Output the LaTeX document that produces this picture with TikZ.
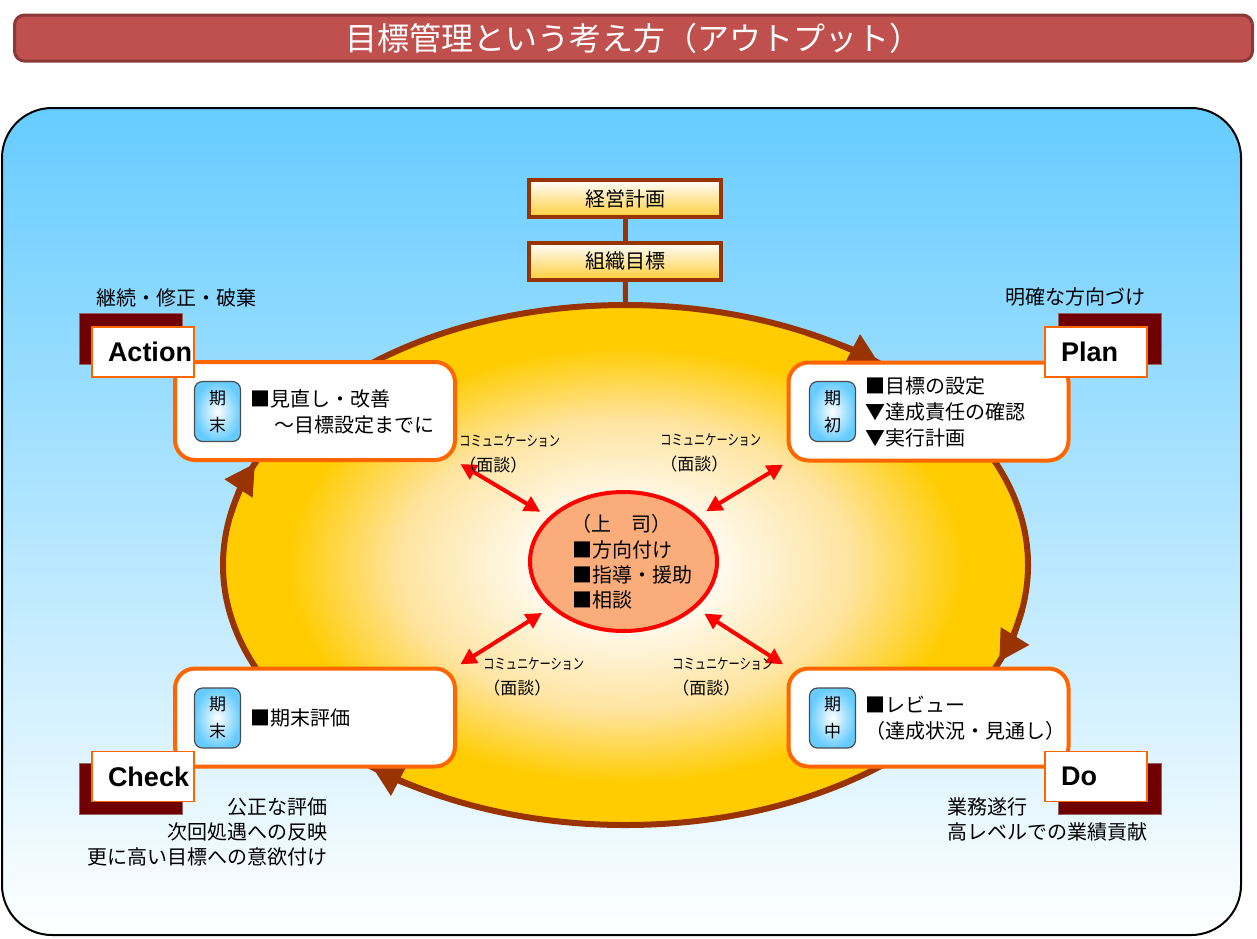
\documentclass[tikz,border=0pt]{standalone}
\usepackage{fontspec}
\setmainfont{Noto Sans CJK JP}
\newfontfamily\tagfont{Liberation Sans}
\usepackage{graphicx}
\usetikzlibrary{shapes,arrows.meta}
\definecolor{titlered}{RGB}{192,80,77}
\definecolor{titleline}{RGB}{140,56,54}
\definecolor{sky}{RGB}{102,204,255}
\definecolor{sun}{RGB}{255,204,0}
\definecolor{sunmid}{RGB}{255,228,160}
\definecolor{sunlow}{RGB}{255,206,60}
\definecolor{rust}{RGB}{153,51,0}
\definecolor{boxorange}{RGB}{255,102,0}
\definecolor{wine}{RGB}{112,0,0}
\definecolor{wineline}{RGB}{150,100,100}
\definecolor{salmon}{RGB}{250,172,122}
\pgfdeclareradialshading{sunshade}{\pgfpoint{0bp}{0bp}}{color(0bp)=(white); color(4bp)=(white); color(14bp)=(sunmid); color(21bp)=(sun); color(50bp)=(sun)}

\begin{document}
\begin{tikzpicture}[x=0.5pt,y=-0.5pt,
    pdca/.style={draw=boxorange,line width=2pt,fill=white,rounded corners=10pt,minimum width=140pt,minimum height=49pt,inner sep=0pt},
    kikan/.style={draw=black!70,line width=0.6pt,rounded corners=4pt,inner color=white,outer color=sky,minimum width=23pt,minimum height=30pt,align=center,inner sep=0pt,font=\fontsize{8.5}{13.5}\selectfont},
    plbox/.style={draw=rust,line width=2pt,top color=white,bottom color=sunlow,minimum width=96pt,minimum height=18.5pt,inner sep=0pt,font=\fontsize{10}{12}\selectfont},
    rustline/.style={draw=rust,line width=2.5pt},
    tagshade/.style={draw=wineline,line width=0.5pt,fill=wine,minimum width=51.5pt,minimum height=25.5pt,inner sep=0pt},
    tagbox/.style={draw=boxorange,line width=0.6pt,fill=white,minimum width=51pt,minimum height=25pt,text width=35pt,inner xsep=8pt,inner ysep=0pt,align=left,font=\tagfont\bfseries\fontsize{13.5}{16}\selectfont},
    boxtext/.style={anchor=west,align=left,inner sep=0pt,font=\fontsize{10}{13}\selectfont},
    note/.style={inner sep=0pt,font=\fontsize{10}{12.5}\selectfont},
    commarrow/.style={red,line width=2pt,>={Triangle[length=8pt,width=8pt]},<->},
    commtext/.style={anchor=west,align=left,inner sep=0pt,font=\fontsize{8.5}{12.5}\selectfont}]
  \useasboundingbox (0,0) rectangle (1257,938);

  \node[draw=titleline,fill=titlered,line width=1.5pt,rounded corners=5pt,minimum width=619pt,minimum height=23pt,inner sep=0pt,text=white,font=\fontsize{16}{18}\selectfont] (title) at (633.5,38) {目標管理という考え方（アウトプット）};

  \path[draw=black,line width=1pt,rounded corners=25pt,top color=sky,bottom color=white] (2,108) rectangle (1241,935);

  \node[ellipse,draw=rust,line width=3pt,shade,shading=sunshade,minimum width=402.5pt,minimum height=260pt,inner sep=0pt] (cyc) at (625.5,565) {};
  \foreach \a in {-51,21.8,129,203} {
    \pgfmathsetmacro\b{\a-12}
    \draw[rust,line width=3pt,-{Triangle[length=15pt,width=16pt]}] ([shift={(\b:402.5 and 260)}]cyc.center) arc[start angle=\b,end angle=\a,x radius=402.5,y radius=260];
  }

  \node[plbox] (keiei) at (625,198.5) {経営計画};
  \node[plbox] (soshiki) at (625,261) {組織目標};
  \draw[rustline] (keiei) -- (soshiki);
  \draw[rustline] (soshiki) -- (cyc.north);

  \node[pdca] (act) at (315,411) {};
  \node[pdca] (plan) at (928.5,411.5) {};
  \node[pdca] (chk) at (315,717.5) {};
  \node[pdca] (do) at (928.5,717.5) {};

  \node[kikan] (actk) at (217.5,411.5) {期\\末};
  \node[kikan] (plank) at (832.5,411.5) {期\\初};
  \node[kikan] (chkk) at (217.5,718) {期\\末};
  \node[kikan] (dok) at (832.5,718) {期\\中};

  \node[boxtext] (acttxt) at (250,411.5) {■見直し・改善\\\hspace*{12pt}～目標設定までに};
  \node[boxtext] (plantxt) at (865,411.5) {■目標の設定\\▼達成責任の確認\\▼実行計画};
  \node[boxtext] (chktxt) at (250,717.5) {■期末評価};
  \node[boxtext] (dotxt) at (865,718) {■レビュー\\（達成状況・見通し）};

  \node[tagshade] (actsh) at (130.5,338.5) {};
  \node[tagbox] (acttag) at (143,352) {Action};
  \node[tagshade] (plansh) at (1109.5,338.5) {};
  \node[tagbox] (plantag) at (1096,352) {Plan};
  \node[tagshade] (chksh) at (130.5,788.5) {};
  \node[tagbox] (chktag) at (143,776.5) {Check};
  \node[tagshade] (dosh) at (1109.5,788.5) {};
  \node[tagbox] (dotag) at (1096,776.5) {Do};

  \node[note,anchor=west] (actnote) at (96,298) {継続・修正・破棄};
  \node[note,anchor=west] (plannote) at (1005,297) {明確な方向づけ};
  \node[note,anchor=east,align=right] (chknote) at (328,832) {公正な評価\\次回処遇への反映\\更に高い目標への意欲付け};
  \node[note,anchor=west,align=left] (donote) at (947,819.5) {業務遂行\\高レベルでの業績貢献};

  \node[ellipse,draw=red,line width=2pt,fill=salmon,minimum width=93.5pt,minimum height=69.5pt,inner sep=0pt] (boss) at (623.5,561.5) {};
  \node[note] (bosshead) at (621,524) {（上　司）};
  \node[boxtext,font=\fontsize{10}{12.6}\selectfont] (bosstxt) at (572,575) {■方向付け\\■指導・援助\\■相談};

  \draw[commarrow,shorten <=2pt,shorten >=5pt] (act.south east) -- (boss);
  \draw[commarrow,shorten <=2pt,shorten >=5pt] (plan.south west) -- (boss);
  \draw[commarrow,shorten <=2pt,shorten >=5pt] (chk.north east) -- (boss);
  \draw[commarrow,shorten <=2pt,shorten >=5pt] (do.north west) -- (boss);

  \node[commtext] (c1) at (459,453.5) {\scalebox{0.66}[0.88]{コミュニケーション}\\（面談）};
  \node[commtext] (c2) at (660,452.5) {\scalebox{0.66}[0.88]{コミュニケーション}\\（面談）};
  \node[commtext] (c3) at (483,676.5) {\scalebox{0.66}[0.88]{コミュニケーション}\\（面談）};
  \node[commtext] (c4) at (672,676.5) {\scalebox{0.66}[0.88]{コミュニケーション}\\（面談）};
\end{tikzpicture}
\end{document}
